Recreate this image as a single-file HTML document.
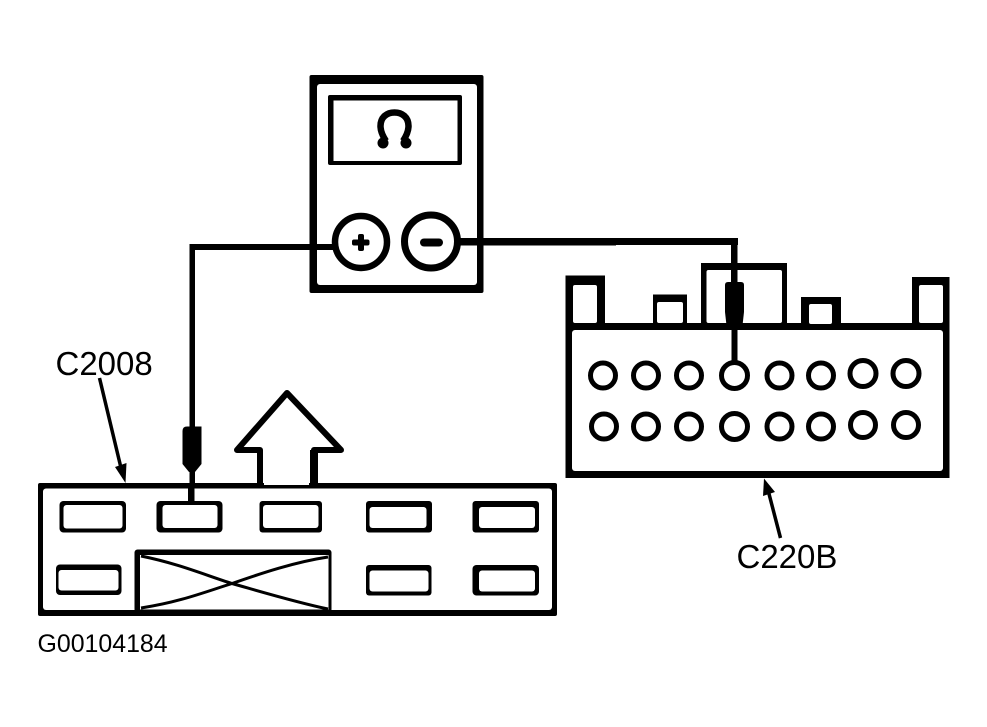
<!DOCTYPE html>
<html>
<head>
<meta charset="utf-8">
<style>
html,body{margin:0;padding:0;background:#fff;}
svg{display:block;}
text{font-family:"Liberation Sans",sans-serif;fill:#000;}
</style>
</head>
<body>
<svg width="987" height="727" viewBox="0 0 987 727" xmlns="http://www.w3.org/2000/svg">
<rect width="987" height="727" fill="#fff"/>

<!-- Meter body -->
<rect x="309.500" y="75" width="174" height="218" rx="2" fill="#000"/>
<rect x="317" y="84" width="160" height="201" rx="3" fill="#fff"/>
<!-- Display -->
<rect x="328" y="95" width="134" height="70" rx="2" fill="#000"/>
<rect x="333.500" y="100.500" width="124" height="60.500" fill="#fff"/>
<!-- Omega -->
<path d="M386 141 C382 135 380.500 131 380.500 126 C380.500 117 387 112.500 394.500 112.500 C402 112.500 408.500 117 408.500 126 C408.500 131 407 135 403 141" fill="none" stroke="#000" stroke-width="6.500"/>
<circle cx="383" cy="143" r="5.500" fill="#000"/>
<circle cx="406" cy="143" r="5.500" fill="#000"/>

<!-- Leads -->
<rect x="189.500" y="244" width="146" height="6" fill="#000"/>
<rect x="189.500" y="244" width="5.500" height="246" fill="#000"/>
<rect x="456" y="238" width="160" height="7.500" fill="#000"/>
<rect x="616" y="238" width="122" height="7" fill="#000"/>
<rect x="731" y="238" width="6.500" height="50" fill="#000"/>

<!-- Terminals -->
<circle cx="361" cy="242" r="26" fill="#fff" stroke="#000" stroke-width="6.500"/>
<circle cx="431" cy="241.500" r="26.500" fill="#fff" stroke="#000" stroke-width="7"/>
<rect x="352" y="239.500" width="17.500" height="6" rx="2" fill="#000"/>
<rect x="358" y="234" width="6" height="17" rx="2" fill="#000"/>
<rect x="420" y="238.500" width="23" height="8" rx="4" fill="#000"/>

<!-- C2008 connector body -->
<rect x="38" y="483" width="519" height="133" rx="2" fill="#000"/>
<rect x="43" y="488.500" width="509" height="121.500" rx="3" fill="#fff"/>
<rect x="264" y="482" width="45" height="3" fill="#fff"/>
<!-- C2008 cavities -->
<g fill="#000">
<rect x="59.500" y="501" width="66.500" height="31.500" rx="4"/>
<rect x="156.500" y="501" width="66" height="31.500" rx="4"/>
<rect x="259.500" y="501" width="62.500" height="31.500" rx="3"/>
<rect x="366" y="501" width="66" height="31.500" rx="3"/>
<rect x="472.500" y="501" width="66.500" height="31.500" rx="3"/>
<rect x="56" y="564.500" width="65.500" height="30.500" rx="4"/>
<rect x="366" y="565" width="65.500" height="30.500" rx="3"/>
<rect x="472.500" y="565" width="66.500" height="30.500" rx="4"/>
</g>
<g fill="#fff">
<rect x="63.500" y="505" width="59" height="23.500" rx="3"/>
<rect x="162.500" y="505" width="55" height="23" rx="3"/>
<rect x="263" y="505" width="55.500" height="23" rx="3"/>
<rect x="369.500" y="507" width="57" height="21" rx="3"/>
<rect x="479" y="507" width="56" height="21" rx="3"/>
<rect x="58.500" y="570" width="60" height="20.500" rx="3"/>
<rect x="369.500" y="570.500" width="59" height="21" rx="3"/>
<rect x="479" y="570.500" width="56" height="21" rx="3"/>
</g>
<!-- Stem from probe into cavity -->
<rect x="188" y="486" width="6.500" height="17" fill="#000"/>
<!-- Blocked cavity -->
<rect x="134.500" y="549.500" width="197" height="63" rx="3" fill="#000"/>
<rect x="140" y="555" width="188.500" height="54.500" fill="#fff"/>
<path d="M141 556 C180 564 205 575 232 583.500 C262 592 295 602 328 609 M141 608 C180 602 205 592 232 583.500 C262 573 295 562 328 557" fill="none" stroke="#000" stroke-width="3"/>

<!-- Large arrow -->
<path d="M260 486 V450 H237 L287 393 L341 450 H314 V486" fill="none" stroke="#000" stroke-width="6" stroke-linejoin="round"/>
<rect x="310" y="450" width="8" height="36" fill="#000"/>

<!-- Left probe -->
<path d="M182.500 431 Q182.500 426.500 187 426.500 H201.500 V464 L195 472 H189 L182.500 464 Z" fill="#000"/>

<!-- C220B connector -->
<path d="M565.500 478 V275.500 H605 V323 H653 V294.500 H687 V323 H701 V263 H787 V323 H801 V297 H841 V323 H912 V277 H949.500 V478 Z" fill="#000"/>
<rect x="572" y="330" width="371" height="141" rx="3" fill="#fff"/>
<g fill="#fff">
<rect x="573" y="285" width="24" height="38" rx="2"/>
<rect x="657" y="302" width="26" height="21" rx="2"/>
<rect x="706.500" y="270" width="75.500" height="53" rx="2"/>
<rect x="809" y="304" width="23" height="20" rx="2"/>
<rect x="919" y="285" width="24" height="38" rx="2"/>
</g>
<!-- Right probe -->
<rect x="731" y="255" width="6.500" height="30" fill="#000"/>
<path d="M725 285 Q725 282 728 282 H741 Q744 282 744 285 V312 L742 330 H727 L725 312 Z" fill="#000"/>
<rect x="731.500" y="328" width="6" height="36" fill="#000"/>

<!-- Pins -->
<g fill="#fff" stroke="#000" stroke-width="5">
<circle cx="603" cy="375.500" r="12.500"/>
<circle cx="646" cy="375.500" r="12.500"/>
<circle cx="689" cy="375.500" r="12.500"/>
<circle cx="734.500" cy="375.500" r="13"/>
<circle cx="779.500" cy="375.500" r="12.500"/>
<circle cx="821" cy="375.500" r="12.500"/>
<circle cx="863" cy="373.500" r="13"/>
<circle cx="906" cy="373.500" r="13"/>
<circle cx="604" cy="426.500" r="12.500"/>
<circle cx="646" cy="426.500" r="12.500"/>
<circle cx="689" cy="426.500" r="12.500"/>
<circle cx="734.500" cy="426.500" r="13"/>
<circle cx="779.500" cy="426.500" r="12.500"/>
<circle cx="821" cy="426.500" r="12.500"/>
<circle cx="863" cy="425" r="12.500"/>
<circle cx="906" cy="425" r="12.500"/>
</g>

<!-- Label leaders -->
<path d="M99.500 378 L121.500 470" fill="none" stroke="#000" stroke-width="3.500"/>
<path d="M125.500 483 L115 467 L126.500 463 Z" fill="#000"/>
<path d="M780.500 538 L768 490" fill="none" stroke="#000" stroke-width="3.500"/>
<path d="M764 478.500 L775 492 L763 496 Z" fill="#000"/>

<text x="55.500" y="375" font-size="33">C2008</text>
<text x="736.500" y="568" font-size="33">C220B</text>
<text x="37.500" y="652" font-size="24.900">G00104184</text>
</svg>
</body>
</html>
